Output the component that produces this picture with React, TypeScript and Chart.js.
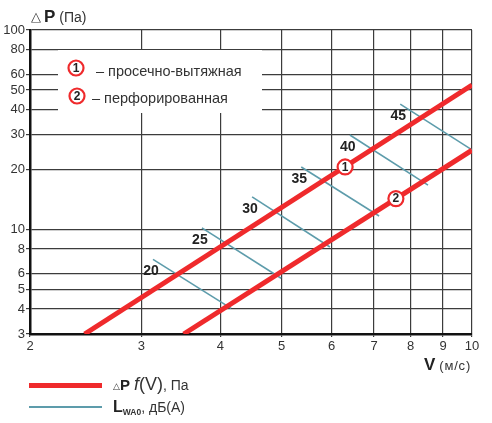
import React, { useEffect, useRef } from "react";
import { Chart, registerables } from "chart.js";

Chart.register(...registerables);

const xTicks = [2, 3, 4, 5, 6, 7, 8, 9, 10];
const yTicks = [3, 4, 5, 6, 8, 10, 20, 30, 40, 50, 60, 80, 100];

// pressure loss lines (V, ΔP)
const line1V = [2.44, 10];
const line1P = [3, 53];
const line2V = [3.5, 10];
const line2P = [3, 25];

// noise level lines LWA0
const noiseLevels = ["20", "25", "30", "35", "40", "45"];
const noiseStartV = [3.13, 3.74, 4.49, 5.37, 6.41, 7.7];
const noiseStartP = [7.1, 10.2, 14.6, 20.6, 29.8, 42.5];
const noiseEndV = [4.16, 4.99, 5.96, 7.13, 8.52, 10];
const noiseEndP = [4.03, 5.71, 8.18, 11.7, 16.7, 25.1];

// circled markers on the red lines
const markerLabels = ["1", "2"];
const markerV = [6.3, 7.58];
const markerP = [20.6, 14.3];

const legendItems = ["– просечно-вытяжная", "– перфорированная"];

const RED = "#ef2a2c";
const TEAL = "#5d9cab";
const FONT = "'Liberation Sans', Arial, Helvetica, sans-serif";

function drawCircleMark(ctx: CanvasRenderingContext2D, x: number, y: number, label: string) {
  ctx.save();
  ctx.beginPath();
  ctx.arc(x, y, 7.5, 0, Math.PI * 2);
  ctx.fillStyle = "#ffffff";
  ctx.fill();
  ctx.lineWidth = 2.2;
  ctx.strokeStyle = RED;
  ctx.stroke();
  ctx.fillStyle = "#222";
  ctx.font = `bold 12px ${FONT}`;
  ctx.textAlign = "center";
  ctx.textBaseline = "middle";
  ctx.fillText(label, x, y + 0.5);
  ctx.restore();
}

const annotationPlugin = {
  id: "annot",
  beforeDatasetsDraw(chart: any) {
    const { ctx, chartArea } = chart;
    // white legend box inside plot
    ctx.save();
    ctx.fillStyle = "#ffffff";
    ctx.fillRect(chartArea.left + 28, chartArea.top + 20, 204, 63);
    ctx.restore();
    drawCircleMark(ctx, chartArea.left + 46, chartArea.top + 38, markerLabels[0]);
    drawCircleMark(ctx, chartArea.left + 47, chartArea.top + 66, markerLabels[1]);
    ctx.save();
    ctx.fillStyle = "#333";
    ctx.font = `14.5px ${FONT}`;
    ctx.textBaseline = "middle";
    ctx.fillText(legendItems[0], chartArea.left + 66, chartArea.top + 42);
    ctx.fillText(legendItems[1], chartArea.left + 62, chartArea.top + 69);
    ctx.restore();
  },
  afterDatasetsDraw(chart: any) {
    const { ctx } = chart;
    const xs = chart.scales.x;
    const ys = chart.scales.y;
    ctx.save();
    ctx.fillStyle = "#222";
    ctx.font = `bold 14px ${FONT}`;
    ctx.textAlign = "center";
    ctx.textBaseline = "middle";
    noiseLevels.forEach((lab, i) => {
      const px = xs.getPixelForValue(noiseStartV[i]);
      const py = ys.getPixelForValue(noiseStartP[i]);
      ctx.fillText(lab, px - 2, py + 12);
    });
    ctx.restore();
    markerLabels.forEach((lab, i) => {
      drawCircleMark(ctx, xs.getPixelForValue(markerV[i]), ys.getPixelForValue(markerP[i]), lab);
    });
  },
};

export default function App() {
  const ref = useRef<HTMLCanvasElement | null>(null);

  useEffect(() => {
    if (!ref.current) return;
    const datasets: any[] = [
      {
        data: line1V.map((v, i) => ({ x: v, y: line1P[i] })),
        borderColor: RED,
        borderWidth: 5,
        showLine: true,
        pointRadius: 0,
        borderCapStyle: "butt",
      },
      {
        data: line2V.map((v, i) => ({ x: v, y: line2P[i] })),
        borderColor: RED,
        borderWidth: 5,
        showLine: true,
        pointRadius: 0,
        borderCapStyle: "butt",
      },
      ...noiseLevels.map((_, i) => ({
        data: [
          { x: noiseStartV[i], y: noiseStartP[i] },
          { x: noiseEndV[i], y: noiseEndP[i] },
        ],
        borderColor: TEAL,
        borderWidth: 1.6,
        showLine: true,
        pointRadius: 0,
      })),
    ];

    const chart = new Chart(ref.current, {
      type: "scatter",
      data: { datasets },
      plugins: [annotationPlugin],
      options: {
        responsive: false,
        animation: false,
        devicePixelRatio: 1,
        layout: { padding: { top: 30, right: 20, left: 0, bottom: 69 } },
        plugins: { legend: { display: false }, tooltip: { enabled: false } },
        scales: {
          x: {
            type: "logarithmic",
            min: 2,
            max: 10,
            afterBuildTicks: (s: any) => {
              s.ticks = xTicks.map((v) => ({ value: v }));
            },
            afterFit: (s: any) => {
              s.height = 20;
            },
            grid: { color: "#3c3c3c", lineWidth: 1.2, tickLength: 3 },
            border: { color: "#111", width: 2.5 },
            ticks: {
              autoSkip: false,
              maxRotation: 0,
              padding: 2,
              color: "#333",
              font: { family: FONT, size: 13 },
              callback: (v: any) => String(v),
            },
          },
          y: {
            type: "logarithmic",
            min: 3,
            max: 100,
            afterBuildTicks: (s: any) => {
              s.ticks = yTicks.map((v) => ({ value: v }));
            },
            afterFit: (s: any) => {
              s.width = 30;
            },
            grid: { color: "#3c3c3c", lineWidth: 1.2, tickLength: 4 },
            border: { color: "#111", width: 2.5 },
            ticks: {
              autoSkip: false,
              padding: 1,
              color: "#333",
              font: { family: FONT, size: 13 },
              callback: (v: any) => String(v),
            },
          },
        },
      },
    });
    return () => chart.destroy();
  }, []);

  const abs = (s: React.CSSProperties): React.CSSProperties => ({ position: "absolute", whiteSpace: "nowrap", ...s });

  return (
    <div style={{ position: "absolute", left: 0, top: 0, width: 492, height: 423, background: "#fff", fontFamily: FONT, color: "#333" }}>
      <canvas ref={ref} width={492} height={423} style={{ display: "block", width: 492, height: 423 }} />
      {/* Y title */}
      <div style={abs({ left: 31, top: 7, lineHeight: "20px" })}>
        <span style={{ fontSize: 13, verticalAlign: "1px" }}>△</span>
        <span style={{ fontSize: 17, fontWeight: "bold", color: "#222", marginLeft: 3 }}>P</span>
        <span style={{ fontSize: 14, marginLeft: 4 }}>(Па)</span>
      </div>
      {/* X title */}
      <div style={abs({ left: 424, top: 355, lineHeight: "20px" })}>
        <span style={{ fontSize: 17, fontWeight: "bold", color: "#222" }}>V</span>
        <span style={{ fontSize: 13, letterSpacing: "0.8px", marginLeft: 4 }}>(м/с)</span>
      </div>
      {/* bottom legend */}
      <div style={abs({ left: 29, top: 383, width: 73, height: 5, background: RED })} />
      <div style={abs({ left: 113, top: 373, lineHeight: "22px" })}>
        <span style={{ fontSize: 9, verticalAlign: "1px" }}>△</span>
        <span style={{ fontSize: 15, fontWeight: "bold", color: "#222" }}>P </span>
        <span style={{ fontSize: 18, fontStyle: "italic" }}>f</span>
        <span style={{ fontSize: 18 }}>(V)</span>
        <span style={{ fontSize: 14 }}>, Па</span>
      </div>
      <div style={abs({ left: 29, top: 406, width: 73, height: 2, background: TEAL })} />
      <div style={abs({ left: 113, top: 397, lineHeight: "20px" })}>
        <span style={{ fontSize: 16, fontWeight: "bold", color: "#222" }}>L</span>
        <span style={{ fontSize: 8.5, fontWeight: "bold", verticalAlign: "-3px" }}>WA0</span>
        <span style={{ fontSize: 14 }}>, дБ(А)</span>
      </div>
    </div>
  );
}
